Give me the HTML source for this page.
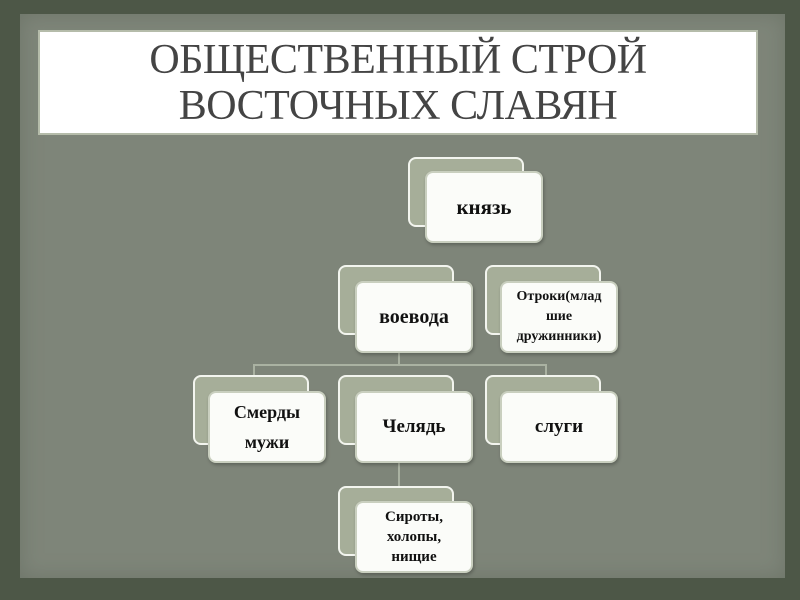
<!DOCTYPE html>
<html><head><meta charset="utf-8"><style>
body{margin:0;width:800px;height:600px;overflow:hidden;background:#4d5747;position:relative;font-family:"Liberation Serif",serif}
.paper{position:absolute;left:20px;top:14px;width:765px;height:564px;background:#7e8579;box-shadow:inset 0 0 20px #6e7569}
.title{position:absolute;left:38px;top:30px;width:716px;height:96px;background:#fff;border:2px solid #b5bcaa;text-align:center;color:#444;font-size:42px;line-height:46px;padding-top:5px;box-sizing:content-box;letter-spacing:-0.5px}
.b{position:absolute;width:116px;height:70px;background:#a6ae99;border:2px solid #f3f5ef;border-radius:8px;box-sizing:border-box}
.f{position:absolute;width:118px;height:72px;background:#fbfcf9;border:2px solid #c9cfbf;border-radius:8px;box-sizing:border-box;box-shadow:1px 2px 3px rgba(0,0,0,.25);display:flex;align-items:center;justify-content:center;text-align:center;font-weight:bold;color:#111;font-size:18px;line-height:22px}
.s{font-size:14px;line-height:20px}
.l{position:absolute;background:#aab2a2}
</style></head><body>
<div class="paper"></div>
<div class="title">ОБЩЕСТВЕННЫЙ СТРОЙ<br>ВОСТОЧНЫХ СЛАВЯН</div>
<div class="l" style="left:253px;top:364px;width:294px;height:2px"></div>
<div class="l" style="left:253px;top:364px;width:2px;height:12px"></div>
<div class="l" style="left:545px;top:364px;width:2px;height:12px"></div>
<div class="l" style="left:398px;top:352px;width:2px;height:14px"></div>
<div class="l" style="left:398px;top:462px;width:2px;height:26px"></div>

<div class="b" style="left:408px;top:157px"></div><div class="f" style="left:425px;top:171px;font-size:21px">князь</div>
<div class="b" style="left:338px;top:265px"></div><div class="f" style="left:355px;top:281px;font-size:20px">воевода</div>
<div class="b" style="left:485px;top:265px"></div><div class="f s" style="left:500px;top:281px">Отроки(млад<br>шие<br>дружинники)</div>
<div class="b" style="left:193px;top:375px"></div><div class="f" style="left:208px;top:391px;line-height:30px">Смерды<br>мужи</div>
<div class="b" style="left:338px;top:375px"></div><div class="f" style="left:355px;top:391px;font-size:19px">Челядь</div>
<div class="b" style="left:485px;top:375px"></div><div class="f" style="left:500px;top:391px;font-size:19px">слуги</div>
<div class="b" style="left:338px;top:486px"></div><div class="f s" style="left:355px;top:501px;font-size:15px">Сироты,<br>холопы,<br>нищие</div>
</body></html>
